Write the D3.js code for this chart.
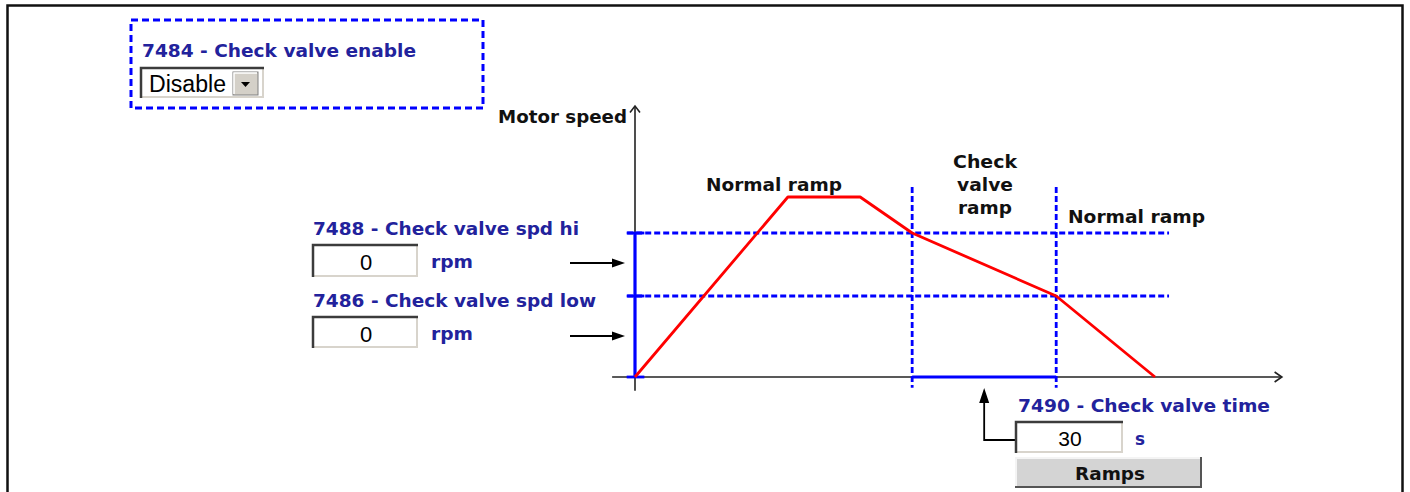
<!DOCTYPE html>
<html>
<head>
<meta charset="utf-8">
<script src="https://cdn.jsdelivr.net/npm/d3@7"></script>
<style>
  html, body { margin: 0; padding: 0; background: #ffffff; }
  svg { display: block; }
</style>
</head>
<body>
<svg id="chart" width="1410" height="492"></svg>
<script>
// ---- data ----
const timePoints = [0, 29.4, 43.3, 53.3, 81.0, 100];
const speedPoints = [0, 100, 100, 80, 45, 0];
const speedHi = 80;
const speedLow = 45;
const checkValveWindow = [53.3, 81.0];
const paramEnable = "7484 - Check valve enable";
const paramEnableValue = "Disable";
const paramHi = "7488 - Check valve spd hi";
const paramLow = "7486 - Check valve spd low";
const paramTime = "7490 - Check valve time";
const valueHi = "0";
const valueLow = "0";
const valueTime = "30";
const unitSpeed = "rpm";
const unitTime = "s";
const axisLabelY = "Motor speed";
const phaseLabels = ["Normal ramp", "Check valve ramp", "Normal ramp"];
const buttonLabel = "Ramps";

// ---- setup ----
const svg = d3.select("#chart");
const x = d3.scaleLinear().domain([0, 100]).range([635, 1155]);
const y = d3.scaleLinear().domain([0, 100]).range([377, 197]);

const BLUE_TXT = "#22229c";
const BOLD = "'DejaVu Sans', Verdana, sans-serif";
const SANS = "'Liberation Sans', Arial, sans-serif";

function label(t, px, py, w, opts = {}) {
  const el = svg.append("text")
    .attr("x", px).attr("y", py)
    .attr("font-family", opts.family || BOLD)
    .attr("font-weight", opts.weight || "bold")
    .attr("font-size", opts.size || 17.5)
    .attr("fill", opts.fill || BLUE_TXT)
    .attr("text-anchor", opts.anchor || "start")
    .text(t);
  if (w) el.attr("textLength", w).attr("lengthAdjust", "spacingAndGlyphs");
  return el;
}

function sunkenBox(x0, y0, w, h) {
  const g = svg.append("g");
  g.append("rect").attr("x", x0).attr("y", y0).attr("width", w).attr("height", h).attr("fill", "#fff");
  g.append("path").attr("d", `M${x0 + w - 1},${y0} V${y0 + h - 1} H${x0}`)
    .attr("stroke", "#d8d4cc").attr("stroke-width", 2).attr("fill", "none");
  g.append("path").attr("d", `M${x0 + 1},${y0 + h} V${y0 + 1} H${x0 + w}`)
    .attr("stroke", "#3c3c3c").attr("stroke-width", 2.5).attr("fill", "none");
  return g;
}

// outer frame
svg.append("rect").attr("x", 7.5).attr("y", 5.5).attr("width", 1395).attr("height", 520)
  .attr("fill", "none").attr("stroke", "#111").attr("stroke-width", 2.5);

// ---- enable block ----
svg.append("rect").attr("x", 131).attr("y", 20).attr("width", 352).attr("height", 88)
  .attr("fill", "none").attr("stroke", "#0000ff").attr("stroke-width", 3)
  .attr("stroke-dasharray", "7,4");
label(paramEnable, 142, 57, 274);
sunkenBox(140, 67, 124, 31);
label(paramEnableValue, 149, 92, 77, { family: SANS, weight: "normal", size: 23, fill: "#000" });
svg.append("rect").attr("x", 233).attr("y", 72).attr("width", 25).attr("height", 23)
  .attr("fill", "#d4d0c8").attr("stroke", "#808080").attr("stroke-width", 1);
svg.append("path").attr("d", "M234,94 V73 H257").attr("stroke", "#fff").attr("stroke-width", 1.5).attr("fill", "none");
svg.append("path").attr("d", "M241,82 H250 L245.5,87 Z").attr("fill", "#000");

// ---- axes ----
const axisG = svg.append("g").attr("stroke", "#222").attr("stroke-width", 1.6).attr("fill", "none");
axisG.append("line").attr("x1", x(0)).attr("x2", x(0)).attr("y1", y(-7.7)).attr("y2", y(150.5));
axisG.append("path").attr("d", `M${x(0) - 5},${y(147)} L${x(0)},${y(150.5)} L${x(0) + 5},${y(147)}`);
axisG.append("line").attr("x1", x(-4.4)).attr("x2", x(124.4)).attr("y1", y(0)).attr("y2", y(0));
axisG.append("path").attr("d", `M${x(123)},${y(0) - 5} L${x(124.4)},${y(0)} L${x(123)},${y(0) + 5}`);
label(axisLabelY, 498, 123, 129, { fill: "#111" });

// ---- thresholds ----
const blue = svg.append("g").attr("stroke", "#0000ff").attr("fill", "none");
[speedHi, speedLow].forEach(v => {
  blue.append("line").attr("x1", x(-1.5)).attr("x2", x(102.7)).attr("y1", y(v)).attr("y2", y(v))
    .attr("stroke-width", 2.8).attr("stroke-dasharray", "6,3");
});
[speedHi, speedLow, 0].forEach(v => {
  blue.append("line").attr("x1", x(-1.6)).attr("x2", x(1.8)).attr("y1", y(v)).attr("y2", y(v)).attr("stroke-width", 2.8);
});
blue.append("line").attr("x1", x(0)).attr("x2", x(0)).attr("y1", y(speedHi)).attr("y2", y(0)).attr("stroke-width", 3.2);
checkValveWindow.forEach(t => {
  blue.append("line").attr("x1", x(t)).attr("x2", x(t)).attr("y1", y(105.5)).attr("y2", y(-6))
    .attr("stroke-width", 2.8).attr("stroke-dasharray", "6,3");
});
blue.append("line").attr("x1", x(checkValveWindow[0])).attr("x2", x(checkValveWindow[1]))
  .attr("y1", y(0)).attr("y2", y(0)).attr("stroke-width", 3.2);

// ---- speed profile ----
const line = d3.line().x((d, i) => x(timePoints[i])).y(d => y(d));
svg.append("path").datum(speedPoints).attr("d", line)
  .attr("fill", "none").attr("stroke", "#ff0000").attr("stroke-width", 2.8).attr("stroke-linejoin", "round");

// phase labels
label(phaseLabels[0], 706, 191, 136, { fill: "#111" });
const cv = phaseLabels[1].split(" ");
const cvW = [64, 56, 54];
cv.forEach((w, i) => label(w, 985, 168 + i * 23, cvW[i], { fill: "#111", anchor: "middle" }));
label(phaseLabels[2], 1068, 223, 137, { fill: "#111" });

// ---- left parameter inputs ----
label(paramHi, 313, 235, 266);
sunkenBox(312, 244, 106, 33);
label(valueHi, 366, 270, null, { family: SANS, weight: "normal", size: 22, fill: "#000", anchor: "middle" });
label(unitSpeed, 431, 268, 42);

label(paramLow, 313, 307, 283);
sunkenBox(312, 316, 106, 32);
label(valueLow, 366, 342, null, { family: SANS, weight: "normal", size: 22, fill: "#000", anchor: "middle" });
label(unitSpeed, 431, 340, 42);

function hArrow(yy) {
  svg.append("line").attr("x1", 570).attr("x2", 614).attr("y1", yy).attr("y2", yy)
    .attr("stroke", "#000").attr("stroke-width", 1.8);
  svg.append("path").attr("d", `M612,${yy - 4.5} L625,${yy} L612,${yy + 4.5} Z`).attr("fill", "#000");
}
hArrow(263);
hArrow(336);

// ---- time parameter ----
const ax = x((checkValveWindow[0] + checkValveWindow[1]) / 2);
svg.append("path").attr("d", `M${ax},400 V440 H1016`).attr("stroke", "#000").attr("stroke-width", 1.8).attr("fill", "none");
svg.append("path").attr("d", `M${ax - 5},403 L${ax},388 L${ax + 5},403 Z`).attr("fill", "#000");

label(paramTime, 1018, 412, 252);
sunkenBox(1015, 421, 108, 32);
label(valueTime, 1070, 446, null, { family: SANS, weight: "normal", size: 21, fill: "#000", anchor: "middle" });
label(unitTime, 1135, 445, 10);

// button
svg.append("rect").attr("x", 1015).attr("y", 457).attr("width", 187).attr("height", 31).attr("fill", "#d4d4d4");
svg.append("path").attr("d", "M1016,487 V458 H1201").attr("stroke", "#f4f4f4").attr("stroke-width", 2).attr("fill", "none");
svg.append("path").attr("d", "M1015,487 H1201 V457").attr("stroke", "#555").attr("stroke-width", 2).attr("fill", "none");
label(buttonLabel, 1110, 480, 70, { fill: "#111", anchor: "middle" });
</script>
</body>
</html>
